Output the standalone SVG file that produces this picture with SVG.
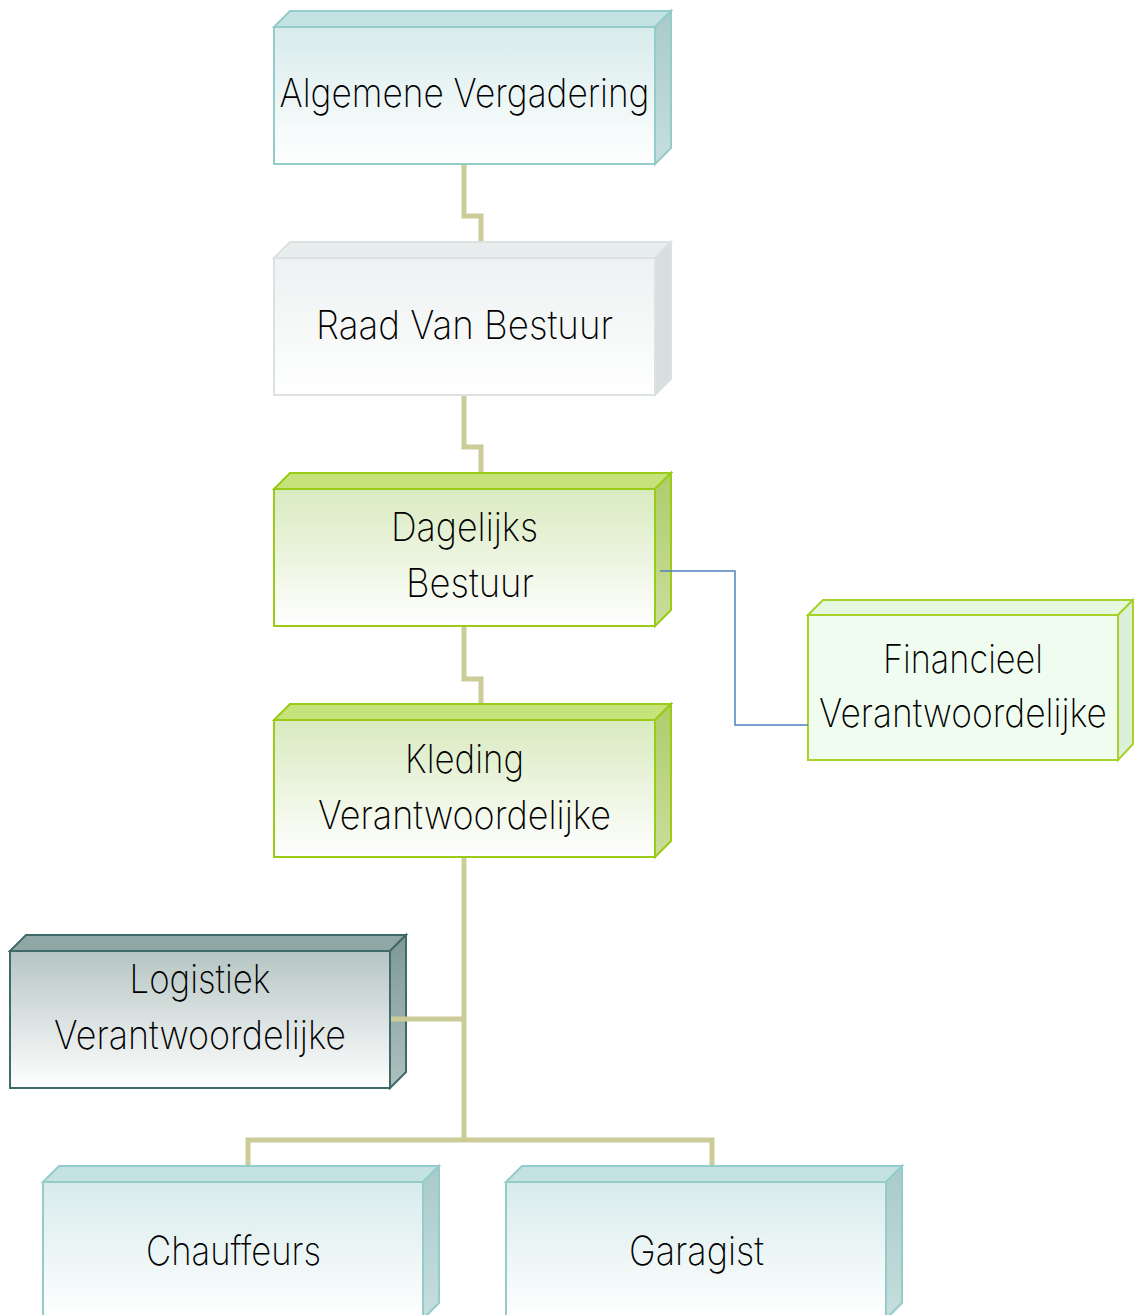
<svg xmlns="http://www.w3.org/2000/svg" width="1134" height="1315" viewBox="0 0 1134 1315">
<defs>
<linearGradient id="gTeal" x1="0" y1="0" x2="0" y2="1"><stop offset="0" stop-color="#d8ebeb"/><stop offset="1" stop-color="#ffffff"/></linearGradient>
<linearGradient id="gTealSide" x1="0" y1="0" x2="0" y2="1"><stop offset="0" stop-color="#aacaca"/><stop offset="1" stop-color="#c6dede"/></linearGradient>
<linearGradient id="gGray" x1="0" y1="0" x2="0" y2="1"><stop offset="0" stop-color="#edf1f1"/><stop offset="1" stop-color="#ffffff"/></linearGradient>
<linearGradient id="gGreen" x1="0" y1="0" x2="0" y2="1"><stop offset="0" stop-color="#d9eac0"/><stop offset="1" stop-color="#ffffff"/></linearGradient>
<linearGradient id="gGreenSide" x1="0" y1="0" x2="0" y2="1"><stop offset="0" stop-color="#afcd6a"/><stop offset="1" stop-color="#cadd9c"/></linearGradient>
<linearGradient id="gDark" x1="0" y1="0" x2="0" y2="1"><stop offset="0" stop-color="#b5c5c3"/><stop offset="1" stop-color="#ffffff"/></linearGradient>
<linearGradient id="gDarkSide" x1="0" y1="0" x2="0" y2="1"><stop offset="0" stop-color="#7e9896"/><stop offset="1" stop-color="#aec2c0"/></linearGradient>
</defs>
<style>
.t{font-family:Inter,"Liberation Sans Narrow","DejaVu Sans",sans-serif;font-weight:200;font-size:40px;fill:#000;text-anchor:middle}
.teal{stroke:#94cccc;stroke-width:2}
.gray{stroke:#dce2e2;stroke-width:2}
.green{stroke:#9acb16;stroke-width:2}
.lgreen{stroke:#a6d22a;stroke-width:2}
.dark{stroke:#3f6a69;stroke-width:2}
.tan{fill:none;stroke:#cccc99;stroke-width:5}
.blue{fill:none;stroke:#4f81bd;stroke-width:1.5}
</style>

<g id="algemene-vergadering" class="teal">
<polygon points="274,27 290,11 671,11 655,27" fill="#c4e2e2"/>
<polygon points="655,27 671,11 671,148 655,164" fill="url(#gTealSide)"/>
<rect x="274" y="27" width="381" height="137" fill="url(#gTeal)"/>
<text class="t" x="464.5" y="107" stroke="none" textLength="370" lengthAdjust="spacingAndGlyphs">Algemene Vergadering</text>
</g>

<g id="raad-van-bestuur" class="gray">
<polygon points="274,258 290,242 671,242 655,258" fill="#e8eded"/>
<polygon points="655,258 671,242 671,379 655,395" fill="#d7dede"/>
<rect x="274" y="258" width="381" height="137" fill="url(#gGray)"/>
<text class="t" x="464.5" y="339" stroke="none" textLength="297" lengthAdjust="spacingAndGlyphs">Raad Van Bestuur</text>
</g>

<g id="dagelijks-bestuur" class="green">
<polygon points="274,489 290,473 671,473 655,489" fill="#c6e27a"/>
<polygon points="655,489 671,473 671,610 655,626" fill="url(#gGreenSide)"/>
<rect x="274" y="489" width="381" height="137" fill="url(#gGreen)"/>
<text class="t" x="464.5" y="541" stroke="none" textLength="147" lengthAdjust="spacingAndGlyphs">Dagelijks</text>
<text class="t" x="470" y="597" stroke="none" textLength="128" lengthAdjust="spacingAndGlyphs">Bestuur</text>
</g>

<g id="kleding-verantwoordelijke" class="green">
<polygon points="274,720 290,704 671,704 655,720" fill="#c6e27a"/>
<polygon points="655,720 671,704 671,841 655,857" fill="url(#gGreenSide)"/>
<rect x="274" y="720" width="381" height="137" fill="url(#gGreen)"/>
<text class="t" x="464.5" y="773" stroke="none" textLength="119" lengthAdjust="spacingAndGlyphs">Kleding</text>
<text class="t" x="464.5" y="829" stroke="none" textLength="293" lengthAdjust="spacingAndGlyphs">Verantwoordelijke</text>
</g>

<g id="financieel-verantwoordelijke" class="lgreen">
<polygon points="808,615 823,600 1133,600 1118,615" fill="#e6f8e0"/>
<polygon points="1118,615 1133,600 1133,744 1118,760" fill="#dcefd8"/>
<rect x="808" y="615" width="310" height="145" fill="#f0fcef"/>
<text class="t" x="963" y="673" stroke="none" textLength="160" lengthAdjust="spacingAndGlyphs">Financieel</text>
<text class="t" x="963" y="727" stroke="none" textLength="288" lengthAdjust="spacingAndGlyphs">Verantwoordelijke</text>
</g>

<g id="logistiek-verantwoordelijke" class="dark">
<polygon points="10,951 26,935 406,935 390,951" fill="#8fa8a6"/>
<polygon points="390,951 406,935 406,1072 390,1088" fill="url(#gDarkSide)"/>
<rect x="10" y="951" width="380" height="137" fill="url(#gDark)"/>
<text class="t" x="200" y="993" stroke="none" textLength="141" lengthAdjust="spacingAndGlyphs">Logistiek</text>
<text class="t" x="200" y="1049" stroke="none" textLength="292" lengthAdjust="spacingAndGlyphs">Verantwoordelijke</text>
</g>

<g id="chauffeurs" class="teal">
<polygon points="43,1182 59,1166 439,1166 423,1182" fill="#c4e2e2"/>
<polygon points="423,1182 439,1166 439,1303 423,1319" fill="url(#gTealSide)"/>
<rect x="43" y="1182" width="380" height="137" fill="url(#gTeal)"/>
<text class="t" x="233.5" y="1265" stroke="none" textLength="175" lengthAdjust="spacingAndGlyphs">Chauffeurs</text>
</g>

<g id="garagist" class="teal">
<polygon points="506,1182 522,1166 902,1166 886,1182" fill="#c4e2e2"/>
<polygon points="886,1182 902,1166 902,1303 886,1319" fill="url(#gTealSide)"/>
<rect x="506" y="1182" width="380" height="137" fill="url(#gTeal)"/>
<text class="t" x="696.5" y="1265" stroke="none" textLength="135" lengthAdjust="spacingAndGlyphs">Garagist</text>
</g>

<g id="connectors">
<path class="tan" d="M464,165 V216 H481 V241"/>
<path class="tan" d="M464,396 V447 H481 V472"/>
<path class="tan" d="M464,627 V679 H481 V703"/>
<path class="tan" d="M464,858 V1140"/>
<path class="tan" d="M391,1019 H464"/>
<path class="tan" d="M248,1165 V1140 H712 V1165"/>
<path class="blue" d="M660,571 H735 V725 H808"/>
</g>
</svg>
